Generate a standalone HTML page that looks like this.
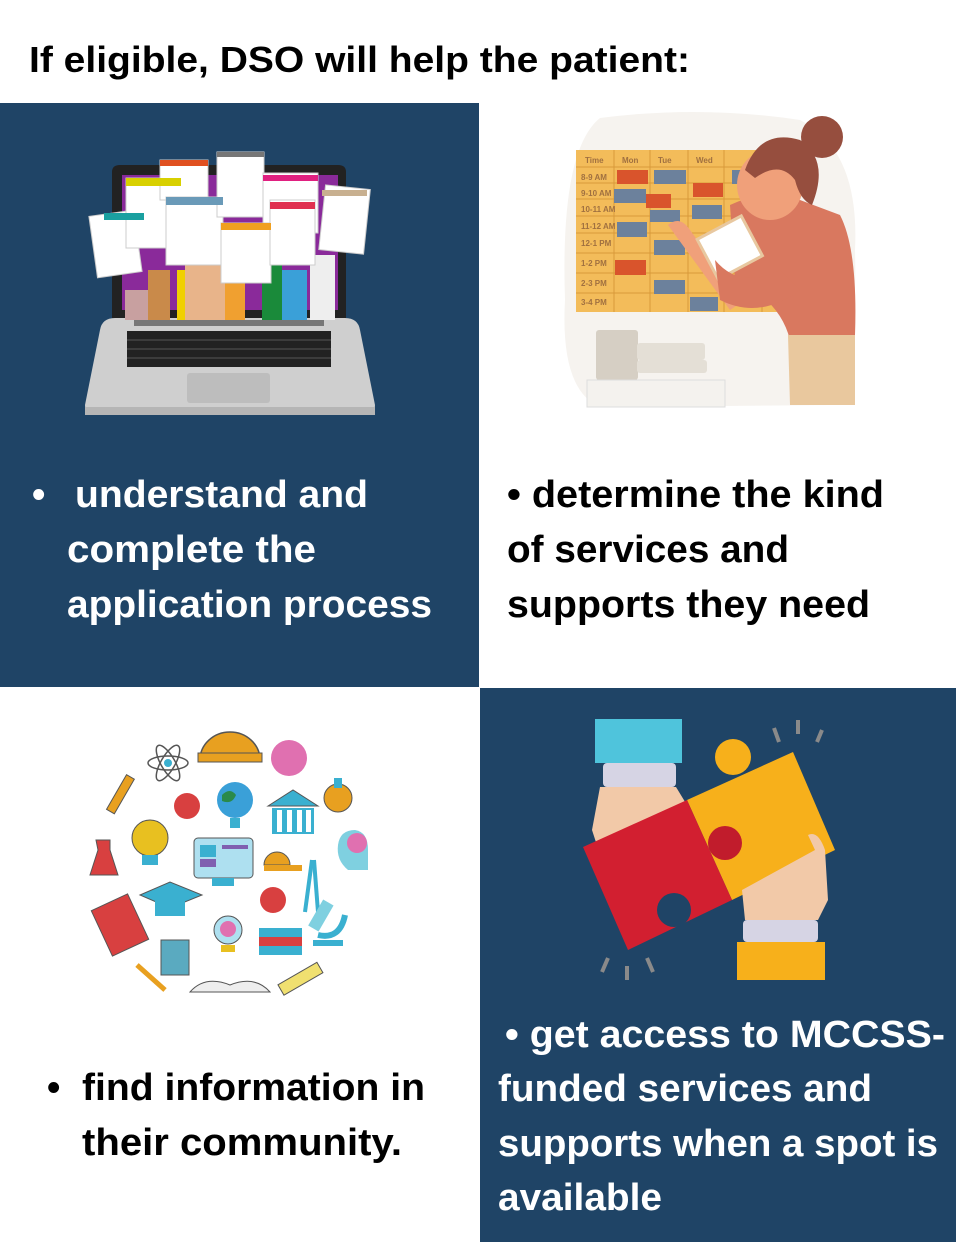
<!DOCTYPE html>
<html><head><meta charset="utf-8"><style>
html,body{margin:0;padding:0;background:#fff}
svg{display:block}
text{font-family:"Liberation Sans",sans-serif;font-weight:bold}
</style></head><body>
<svg width="959" height="1242" viewBox="0 0 959 1242" xmlns="http://www.w3.org/2000/svg">
<rect width="959" height="1242" fill="#fff"/>
<text x="29" y="72" font-size="36" fill="#000" textLength="661" lengthAdjust="spacingAndGlyphs">If eligible, DSO will help the patient:</text>
<rect x="0" y="103" width="479" height="584" fill="#1f4466"/>
<rect x="480" y="688" width="476" height="554" fill="#1f4466"/>

<!-- laptop -->
<path d="M112 318 L112 172 Q112 165 120 165 L338 165 Q346 165 346 172 L346 318 Z" fill="#222"/>
<rect x="122" y="175" width="216" height="135" fill="#8a2a9a"/>
<path d="M85 405 L100 330 Q102 318 115 318 L345 318 Q358 318 360 330 L375 405 Q375 415 365 415 L95 415 Q85 415 85 405Z" fill="#cfcfcf"/>
<rect x="85" y="407" width="290" height="8" fill="#b5b5b5"/>
<rect x="134" y="320" width="190" height="6" fill="#777"/>
<rect x="127" y="331" width="204" height="36" fill="#222"/>
<g stroke="#555" stroke-width="1">
<line x1="127" y1="340" x2="331" y2="340"/><line x1="127" y1="349" x2="331" y2="349"/><line x1="127" y1="358" x2="331" y2="358"/>
</g>
<rect x="187" y="373" width="83" height="30" rx="3" fill="#bdbdbd"/>
<!-- arms -->
<rect x="125" y="290" width="25" height="30" fill="#c8a0a0"/>
<rect x="148" y="270" width="22" height="50" fill="#c98a4a"/>
<rect x="177" y="270" width="12" height="50" fill="#f0d000"/>
<rect x="185" y="250" width="40" height="70" fill="#e8b48a"/>
<rect x="225" y="270" width="20" height="50" fill="#f0a030"/>
<rect x="262" y="260" width="20" height="60" fill="#1a8a3a"/>
<rect x="282" y="270" width="25" height="50" fill="#3aa0d8"/>
<rect x="310" y="255" width="25" height="65" fill="#eee"/>
<!-- papers -->
<g stroke="#ccc" stroke-width="1">
<rect x="93" y="213" width="45" height="62" fill="#fff" transform="rotate(-8 115 244)"/>
<rect x="126" y="178" width="55" height="70" fill="#fff"/>
<rect x="160" y="160" width="48" height="40" fill="#fff"/>
<rect x="166" y="197" width="57" height="68" fill="#fff"/>
<rect x="217" y="152" width="47" height="65" fill="#fff"/>
<rect x="263" y="173" width="55" height="60" fill="#fff"/>
<rect x="221" y="223" width="50" height="60" fill="#fff"/>
<rect x="270" y="200" width="45" height="65" fill="#fff"/>
<rect x="322" y="187" width="45" height="65" fill="#fff" transform="rotate(6 344 220)"/>
</g>
<rect x="104" y="213" width="40" height="7" fill="#1aa0a0"/>
<rect x="126" y="178" width="55" height="8" fill="#d8d000"/>
<rect x="166" y="197" width="57" height="8" fill="#6a9ab8"/>
<rect x="160" y="160" width="48" height="6" fill="#e05020"/>
<rect x="217" y="152" width="47" height="5" fill="#777"/>
<rect x="263" y="175" width="55" height="6" fill="#e02080"/>
<rect x="221" y="223" width="50" height="7" fill="#f0a020"/>
<rect x="270" y="202" width="45" height="7" fill="#e03050"/>
<rect x="322" y="190" width="45" height="6" fill="#c8b090"/>

<!-- calendar scene -->
<path d="M600 118 Q700 105 800 120 Q860 150 855 250 Q858 360 830 405 L600 407 Q560 390 565 300 Q560 150 600 118Z" fill="#f6f3ef"/>
<rect x="576" y="150" width="205" height="162" fill="#f3bc5a"/>
<g stroke="#d89a3a" stroke-width="1">
<line x1="576" y1="167" x2="781" y2="167"/><line x1="576" y1="183" x2="781" y2="183"/><line x1="576" y1="199" x2="781" y2="199"/><line x1="576" y1="216" x2="781" y2="216"/><line x1="576" y1="233" x2="781" y2="233"/><line x1="576" y1="253" x2="781" y2="253"/><line x1="576" y1="273" x2="781" y2="273"/><line x1="576" y1="293" x2="781" y2="293"/>
<line x1="614" y1="150" x2="614" y2="312"/><line x1="650" y1="150" x2="650" y2="312"/><line x1="688" y1="150" x2="688" y2="312"/><line x1="724" y1="150" x2="724" y2="312"/><line x1="762" y1="150" x2="762" y2="312"/>
</g>
<g font-size="8" fill="#a07040" font-family="Liberation Sans" font-weight="normal">
<text x="585" y="163" font-weight="normal">Time</text><text x="622" y="163" font-weight="normal">Mon</text><text x="658" y="163" font-weight="normal">Tue</text><text x="696" y="163" font-weight="normal">Wed</text>
<text x="581" y="180" font-weight="normal">8-9 AM</text><text x="581" y="196" font-weight="normal">9-10 AM</text><text x="581" y="212" font-weight="normal">10-11 AM</text><text x="581" y="229" font-weight="normal">11-12 AM</text><text x="581" y="246" font-weight="normal">12-1 PM</text><text x="581" y="266" font-weight="normal">1-2 PM</text><text x="581" y="286" font-weight="normal">2-3 PM</text><text x="581" y="305" font-weight="normal">3-4 PM</text>
</g>
<rect x="617" y="170" width="31" height="14" fill="#d9542c"/>
<rect x="654" y="170" width="32" height="14" fill="#6c819c"/>
<rect x="614" y="189" width="32" height="14" fill="#6c819c"/>
<rect x="646" y="194" width="25" height="14" fill="#d9542c"/>
<rect x="693" y="183" width="30" height="14" fill="#d9542c"/>
<rect x="650" y="210" width="30" height="12" fill="#6c819c"/>
<rect x="692" y="205" width="30" height="14" fill="#6c819c"/>
<rect x="617" y="222" width="30" height="15" fill="#6c819c"/>
<rect x="654" y="240" width="31" height="15" fill="#6c819c"/>
<rect x="615" y="260" width="31" height="15" fill="#d9542c"/>
<rect x="654" y="280" width="31" height="14" fill="#6c819c"/>
<rect x="690" y="297" width="28" height="14" fill="#6c819c"/>
<rect x="732" y="170" width="20" height="14" fill="#6c819c"/>
<!-- woman -->
<path d="M730 205 Q760 190 800 200 L840 215 Q858 250 855 335 L790 340 Q780 300 735 280 Z" fill="#d9785f"/>
<path d="M788 335 L855 335 L855 405 L790 405 Z" fill="#e9c89e"/>
<ellipse cx="770" cy="185" rx="33" ry="35" fill="#f0a07a"/>
<path d="M745 170 Q760 128 800 140 Q830 160 812 205 Q800 200 795 180 Q780 160 755 178Z" fill="#964e3e"/>
<circle cx="822" cy="137" r="21" fill="#964e3e"/>
<path d="M668 225 Q680 215 690 230 L730 285 L745 300 L730 310 Z" fill="#f0a07a"/>
<rect x="705" y="225" width="50" height="45" fill="#fff" stroke="#e8c8a0" stroke-width="3" transform="rotate(-28 730 248)"/>
<path d="M715 260 Q740 290 780 270 L800 290 Q760 320 720 300Z" fill="#d9785f"/>
<!-- books -->
<rect x="596" y="330" width="42" height="50" rx="3" fill="#d6cfc4"/>
<rect x="637" y="343" width="68" height="17" rx="3" fill="#e4dfd6"/>
<rect x="637" y="360" width="70" height="13" rx="3" fill="#e4dfd6"/>
<rect x="587" y="380" width="138" height="27" fill="#f4f2ee" stroke="#ddd"/>

<!-- icons bottom-left -->
<path d="M200 760 A30 28 0 0 1 260 760 Z" fill="#e8a020" stroke="#555" stroke-width="1.5"/>
<rect x="198" y="753" width="64" height="9" fill="#e8a020" stroke="#555"/>
<circle cx="289" cy="758" r="18" fill="#e070b0"/>
<ellipse cx="168" cy="763" rx="20" ry="7" fill="none" stroke="#555" stroke-width="1.5"/>
<ellipse cx="168" cy="763" rx="20" ry="7" fill="none" stroke="#555" stroke-width="1.5" transform="rotate(60 168 763)"/>
<ellipse cx="168" cy="763" rx="20" ry="7" fill="none" stroke="#555" stroke-width="1.5" transform="rotate(-60 168 763)"/>
<circle cx="168" cy="763" r="4" fill="#3ab0d0"/>
<rect x="100" y="790" width="40" height="9" fill="#e8a020" stroke="#555" transform="rotate(-60 120 794)"/>
<circle cx="187" cy="806" r="13" fill="#d84040"/>
<circle cx="235" cy="800" r="18" fill="#3aa0d8"/>
<path d="M222 795 q8 -8 14 0 q-4 10 -14 6z" fill="#2a8a4a"/>
<rect x="230" y="818" width="10" height="10" fill="#3ab0d0"/>
<path d="M268 806 L293 790 L318 806Z" fill="#3ab0d0" stroke="#555"/>
<rect x="272" y="808" width="42" height="26" fill="#3ab0d0"/>
<g fill="#fff"><rect x="277" y="810" width="5" height="22"/><rect x="287" y="810" width="5" height="22"/><rect x="297" y="810" width="5" height="22"/><rect x="306" y="810" width="5" height="22"/></g>
<circle cx="338" cy="798" r="14" fill="#e8a020" stroke="#555"/>
<rect x="334" y="778" width="8" height="10" fill="#3ab0d0"/>
<circle cx="150" cy="838" r="18" fill="#e8c020" stroke="#555"/>
<rect x="142" y="855" width="16" height="10" fill="#3ab0d0"/>
<path d="M96 840 L110 840 L110 850 L118 875 L90 875 L98 850Z" fill="#d84040" stroke="#555"/>
<rect x="194" y="838" width="59" height="40" rx="4" fill="#aee0f0" stroke="#555"/>
<rect x="200" y="845" width="16" height="12" fill="#3ab0d0"/><rect x="200" y="859" width="16" height="8" fill="#8060b0"/><rect x="222" y="845" width="26" height="4" fill="#8060b0"/>
<rect x="212" y="878" width="22" height="8" fill="#3ab0d0"/>
<path d="M338 845 Q340 830 355 830 Q368 832 368 850 L368 870 L348 870 Q336 860 338 845Z" fill="#7fd0e0"/>
<circle cx="357" cy="843" r="10" fill="#e070b0"/>
<path d="M264 865 A13 13 0 0 1 290 865Z" fill="#e8a020" stroke="#555"/>
<rect x="264" y="865" width="38" height="6" fill="#e8a020"/>
<line x1="312" y1="860" x2="305" y2="912" stroke="#3ab0d0" stroke-width="4"/><line x1="314" y1="860" x2="318" y2="912" stroke="#3ab0d0" stroke-width="4"/>
<circle cx="273" cy="900" r="13" fill="#d84040"/>
<path d="M140 895 L170 882 L202 895 L170 908Z" fill="#3ab0d0" stroke="#555"/>
<rect x="155" y="898" width="30" height="18" fill="#3ab0d0"/>
<rect x="100" y="900" width="40" height="50" fill="#d84040" stroke="#555" transform="rotate(-25 120 925)"/>
<rect x="315" y="900" width="12" height="30" fill="#7fd0e0" transform="rotate(30 320 915)"/>
<path d="M318 935 Q340 940 345 915" fill="none" stroke="#3ab0d0" stroke-width="6"/>
<rect x="313" y="940" width="30" height="6" fill="#3ab0d0"/>
<circle cx="228" cy="930" r="14" fill="#aee0f0" stroke="#555"/>
<circle cx="228" cy="929" r="8" fill="#e070b0"/>
<rect x="221" y="945" width="14" height="7" fill="#e8c020"/>
<rect x="259" y="928" width="43" height="9" fill="#3ab0d0"/><rect x="259" y="937" width="43" height="9" fill="#d84040"/><rect x="259" y="946" width="43" height="9" fill="#3ab0d0"/>
<rect x="161" y="940" width="28" height="35" fill="#5aaac0" stroke="#555"/>
<line x1="137" y1="965" x2="165" y2="990" stroke="#e8a020" stroke-width="5"/>
<path d="M190 992 Q205 975 230 985 Q255 975 270 992Z" fill="#eee" stroke="#555"/>
<rect x="278" y="973" width="45" height="12" fill="#f0e070" stroke="#555" transform="rotate(-30 300 979)"/>

<!-- puzzle -->
<rect x="595" y="719" width="87" height="44" fill="#4fc4dc"/>
<rect x="603" y="763" width="73" height="24" rx="4" fill="#d6d4e4"/>
<path d="M600 787 L676 787 L690 810 L620 835 L618 880 Q610 880 605 870 L592 830Z" fill="#f2c9a8"/>
<path d="M687 800 L793 752 L835 850 L732 900Z" fill="#f7b01b"/>
<circle cx="733" cy="757" r="18" fill="#f7b01b"/>
<path d="M583 847 L687 800 L732 900 L628 950Z" fill="#d21f30"/>
<circle cx="725" cy="843" r="17" fill="#c11c2c"/>
<circle cx="674" cy="910" r="17" fill="#1f4466"/>
<path d="M745 920 L742 890 L815 850 L808 835 Q818 830 825 850 L828 900 L818 920Z" fill="#f2c9a8"/>
<rect x="743" y="920" width="75" height="22" rx="4" fill="#d6d4e4"/>
<rect x="737" y="942" width="88" height="38" fill="#f7b01b"/>
<g stroke="#8a8a8a" stroke-width="4">
<line x1="774" y1="728" x2="779" y2="742"/><line x1="798" y1="720" x2="798" y2="734"/><line x1="822" y1="730" x2="817" y2="742"/>
<line x1="608" y1="958" x2="602" y2="972"/><line x1="627" y1="966" x2="627" y2="980"/><line x1="647" y1="958" x2="653" y2="972"/>
</g>

<!-- texts -->
<g font-size="38">
<text x="32" y="507" fill="#fff">•</text>
<text x="75" y="507" fill="#fff" textLength="293" lengthAdjust="spacingAndGlyphs">understand and</text>
<text x="67" y="562" fill="#fff" textLength="249" lengthAdjust="spacingAndGlyphs">complete the</text>
<text x="67" y="617" fill="#fff" textLength="365" lengthAdjust="spacingAndGlyphs">application process</text>
<text x="507" y="507" fill="#000" textLength="377" lengthAdjust="spacingAndGlyphs">• determine the kind</text>
<text x="507" y="562" fill="#000" textLength="282" lengthAdjust="spacingAndGlyphs">of services and</text>
<text x="507" y="617" fill="#000" textLength="363" lengthAdjust="spacingAndGlyphs">supports they need</text>
<text x="47" y="1100" fill="#000">•</text>
<text x="82" y="1100" fill="#000" textLength="343" lengthAdjust="spacingAndGlyphs">find information in</text>
<text x="82" y="1155" fill="#000" textLength="320" lengthAdjust="spacingAndGlyphs">their community.</text>
<text x="505" y="1047" fill="#fff" textLength="440" lengthAdjust="spacingAndGlyphs">• get access to MCCSS-</text>
<text x="498" y="1101" fill="#fff" textLength="374" lengthAdjust="spacingAndGlyphs">funded services and</text>
<text x="498" y="1156" fill="#fff" textLength="440" lengthAdjust="spacingAndGlyphs">supports when a spot is</text>
<text x="498" y="1210" fill="#fff" textLength="164" lengthAdjust="spacingAndGlyphs">available</text>
</g>
</svg>
</body></html>
